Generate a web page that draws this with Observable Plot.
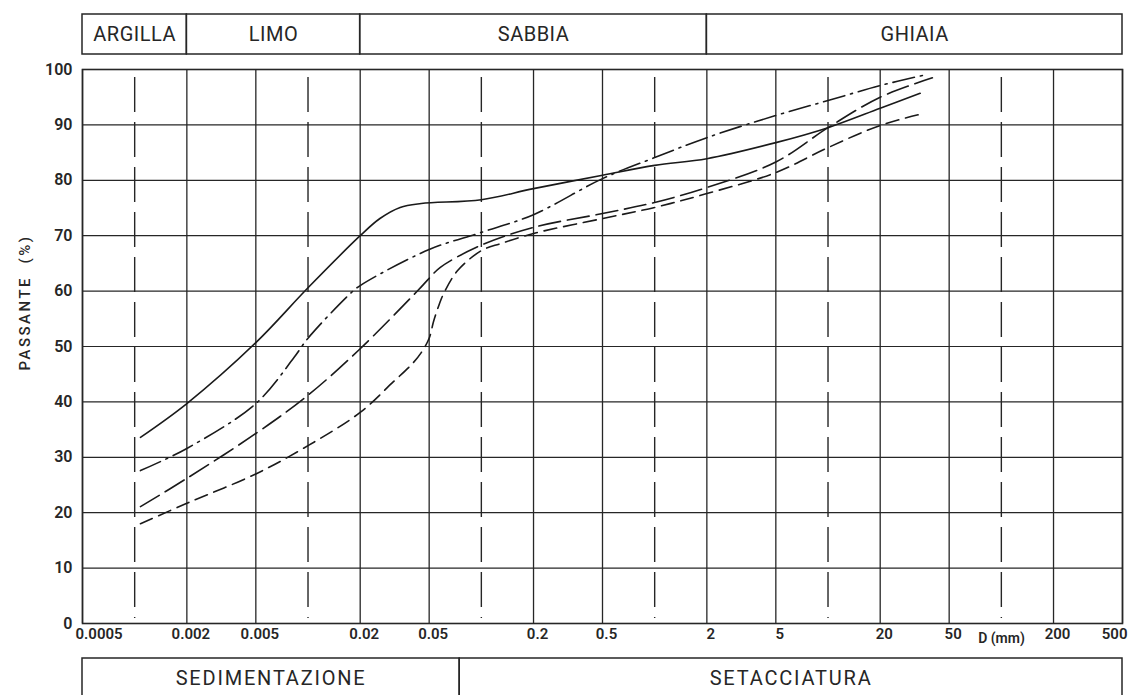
<!DOCTYPE html>
<html><head><meta charset="utf-8">
<script src="https://cdn.jsdelivr.net/npm/d3@7"></script>
<script src="https://cdn.jsdelivr.net/npm/@observablehq/plot@0.6"></script>
<style>
html,body{margin:0;padding:0;background:#fff;overflow:hidden;}
#chart svg{display:block;}
</style></head><body><div id="chart"></div>
<script>
// ---- axis / classification data ----
const xTicks = [0.0005, 0.002, 0.005, 0.02, 0.05, 0.2, 0.5, 2, 5, 20, 50, 200, 500];
const xTickLabels = ["0.0005", "0.002", "0.005", "0.02", "0.05", "0.2", "0.5", "2", "5", "20", "50", "200", "500"];
const decadeLines = [0.001, 0.01, 0.1, 1, 10, 100];
const yTicks = [0, 10, 20, 30, 40, 50, 60, 70, 80, 90, 100];
const classNames = ["ARGILLA", "LIMO", "SABBIA", "GHIAIA"];
const classBounds = [0.0005, 0.002, 0.02, 2, 500];
const methodNames = ["SEDIMENTAZIONE", "SETACCIATURA"];
const methodBounds = [0.0005, 0.075, 500];

// ---- grading curves: diameter D (mm) and passing P (%) ----
const solidD = [0.00108, 0.002, 0.005, 0.01, 0.02, 0.026, 0.034, 0.045, 0.1, 0.2, 0.5, 1, 2, 5, 10, 20, 34];
const solidP = [33.6, 39.7, 50.7, 60.6, 70.0, 73.1, 75.1, 75.8, 76.5, 78.5, 80.9, 82.7, 83.9, 86.8, 89.5, 93.0, 95.7];

const dashDotD = [0.00108, 0.002, 0.005, 0.0083, 0.01, 0.0176, 0.02, 0.05, 0.1, 0.2, 0.5, 1, 2, 5, 10, 20, 36];
const dashDotP = [27.6, 31.6, 39.7, 48.0, 51.5, 59.6, 61.0, 67.5, 70.6, 73.8, 80.3, 84.1, 87.7, 91.7, 94.4, 97.1, 99.0];

const longDashD = [0.00108, 0.002, 0.005, 0.01, 0.02, 0.043, 0.05, 0.058, 0.1, 0.2, 0.5, 1, 2, 5, 10, 20, 40];
const longDashP = [21.1, 26.2, 34.3, 41.2, 49.6, 60.1, 62.3, 64.3, 68.3, 71.5, 74.0, 76.0, 78.7, 83.3, 89.5, 95.0, 98.5];

const shortDashD = [0.00108, 0.002, 0.005, 0.01, 0.02, 0.031, 0.04, 0.045, 0.05, 0.053, 0.057, 0.0605, 0.073, 0.1, 0.13, 0.2, 0.5, 1, 2, 5, 10, 20, 35];
const shortDashP = [18.0, 21.7, 27.0, 32.1, 38.1, 43.6, 46.9, 48.9, 51.5, 54.5, 57.5, 59.5, 63.7, 67.3, 68.6, 70.4, 73.1, 75.1, 77.6, 81.4, 85.9, 89.9, 92.0];

// ---- shared settings ----
const W = 1128, ML = 82, MR = 6;
const INK = "#262626";
const FONT = "Roboto, 'Liberation Sans', sans-serif";
const xScale = {type: "log", domain: [0.0005, 500], axis: null};
const toRows = (D, P) => D.map((d, i) => ({D: d, P: P[i]}));
const bands = (names, bounds) => names.map((n, i) => ({name: n, x1: bounds[i], x2: bounds[i + 1]}));
const labelOf = new Map(xTicks.map((v, i) => [v, xTickLabels[i]]));
const tickText = {frameAnchor: "bottom", lineAnchor: "top", dy: 5, fontSize: 15, fontWeight: 600, fill: INK};

// ---- top band: soil classes ----
const topBand = Plot.plot({
  width: W, height: 57, marginLeft: ML, marginRight: MR, marginTop: 14, marginBottom: 3,
  x: xScale, y: {domain: [0, 1], axis: null},
  style: {fontFamily: FONT, color: INK, background: "white"},
  marks: [
    Plot.rect(bands(classNames, classBounds), {x1: "x1", x2: "x2", y1: 0, y2: 1, fill: "none", stroke: INK, strokeWidth: 1.5}),
    Plot.text(bands(classNames, classBounds), {x: d => Math.sqrt(d.x1 * d.x2), y: 0.5, text: "name", fontSize: 20, fontWeight: 400, fill: INK})
  ]
});
topBand.querySelectorAll("text").forEach(t => t.setAttribute("letter-spacing", "0.5"));

// ---- main grading chart ----
const mid = xTicks.slice(1, -1);
const mainChart = Plot.plot({
  width: W, height: 599, marginLeft: ML, marginRight: MR, marginTop: 12, marginBottom: 33,
  x: {type: "log", domain: [0.0005, 500], axis: null},
  y: {domain: [0, 100], axis: null},
  style: {fontFamily: FONT, color: INK, background: "white"},
  marks: [
    Plot.ruleX(xTicks, {stroke: INK, strokeWidth: 1.3}),
    Plot.ruleY(yTicks, {stroke: INK, strokeWidth: 1.2}),
    Plot.ruleX(decadeLines, {stroke: INK, strokeWidth: 1.4, strokeDasharray: "35,10", insetTop: 8, insetBottom: 5}),
    Plot.frame({stroke: INK, strokeWidth: 1.6}),
    Plot.line(toRows(solidD, solidP), {x: "D", y: "P", curve: "catmull-rom", stroke: "#1a1a1a", strokeWidth: 1.6}),
    Plot.line(toRows(dashDotD, dashDotP), {x: "D", y: "P", curve: "catmull-rom", stroke: "#1a1a1a", strokeWidth: 1.6, strokeDasharray: "22,6,2,6"}),
    Plot.line(toRows(longDashD, longDashP), {x: "D", y: "P", curve: "catmull-rom", stroke: "#1a1a1a", strokeWidth: 1.6, strokeDasharray: "22,7"}),
    Plot.line(toRows(shortDashD, shortDashP), {x: "D", y: "P", curve: "catmull-rom", stroke: "#1a1a1a", strokeWidth: 1.6, strokeDasharray: "13,7"}),
    Plot.text(mid, {...tickText, x: d => d, text: d => labelOf.get(d), dx: 4}),
    Plot.text([xTicks[0]], {...tickText, x: d => d, text: d => labelOf.get(d), textAnchor: "start", dx: -7}),
    Plot.text([xTicks[xTicks.length - 1]], {...tickText, x: d => d, text: d => labelOf.get(d), textAnchor: "end", dx: 5}),
    Plot.axisY(yTicks, {tickSize: 0, tickPadding: 10, fontSize: 16, fontWeight: 600, label: null}),
    Plot.text(["D (mm)"], {frameAnchor: "bottom-right", textAnchor: "middle", lineAnchor: "middle", dx: -121, dy: 15, fontSize: 14, fontWeight: 600, fill: INK}),
    Plot.text(["PASSANTE\u00a0\u00a0(%)"], {frameAnchor: "left", textAnchor: "middle", lineAnchor: "middle", dx: -57, dy: -44, rotate: -90, fontSize: 15, fontWeight: 500, fill: INK})
  ]
});
mainChart.querySelectorAll("text").forEach(t => { if (t.textContent.startsWith("PASSANTE")) t.setAttribute("letter-spacing", "2.5"); });

// ---- bottom band: test method ----
const bottomBand = Plot.plot({
  width: W, height: 60, marginLeft: ML, marginRight: MR, marginTop: 2, marginBottom: 0,
  x: xScale, y: {domain: [0, 1], axis: null},
  style: {fontFamily: FONT, color: INK, background: "white"},
  marks: [
    Plot.rect(bands(methodNames, methodBounds), {x1: "x1", x2: "x2", y1: 0, y2: 1, fill: "none", stroke: INK, strokeWidth: 1.5}),
    Plot.text(bands(methodNames, methodBounds), {x: d => Math.sqrt(d.x1 * d.x2), frameAnchor: "top", lineAnchor: "top", dy: 12, text: "name", fontSize: 20, fontWeight: 400, fill: INK})
  ]
});
bottomBand.querySelectorAll("text").forEach(t => t.setAttribute("letter-spacing", "1.8"));

document.getElementById("chart").append(topBand, mainChart, bottomBand);
</script></body></html>
